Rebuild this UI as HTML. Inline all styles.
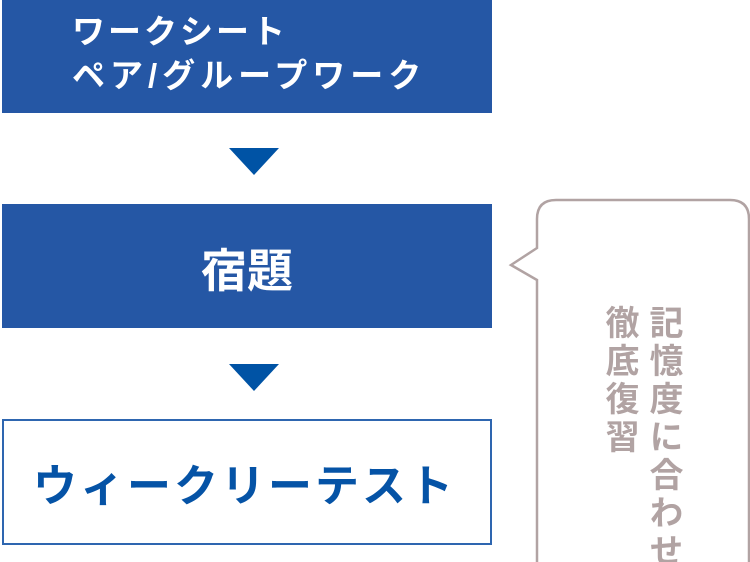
<!DOCTYPE html>
<html><head><meta charset="utf-8"><style>
html,body{margin:0;padding:0;background:#fff;width:750px;height:562px;overflow:hidden;position:relative;font-family:"Liberation Sans","Noto Sans CJK JP",sans-serif;font-weight:bold}
.b{position:absolute;left:2px;width:490px;background:#2557a5;color:#fff}
.t{position:absolute;white-space:nowrap}
</style></head><body>
<div class="b" style="top:0;height:113px"></div>
<div class="t" style="left:72px;top:10px;font-size:33px;letter-spacing:3px;color:#fff;line-height:44px">ワークシート<br><span style="letter-spacing:5px">ペア/グループワーク</span></div>
<svg style="position:absolute;left:0;top:0" width="750" height="562">
<polygon points="229,148 279,148 254,175" fill="#0053a5"/>
<polygon points="229,364 279,364 254,391" fill="#0053a5"/>
<rect x="3" y="420" width="488" height="124" fill="none" stroke="#2e66b0" stroke-width="2"/>
<path d="M556,200 H730 Q749,200 749,219 V562 M537,562 V280 L511,265 L537,248 V219 Q537,200 556,200" fill="none" stroke="#b1a3a3" stroke-width="2.5"/>
</svg>
<div class="b" style="top:204px;height:124px"></div>
<div class="t" style="left:0;width:494px;text-align:center;top:241px;font-size:46px;color:#fff;line-height:60px">宿題</div>
<div class="t" style="left:33px;top:459px;font-size:44px;letter-spacing:3px;color:#0553a6;line-height:56px">ウィークリーテスト</div>
<div class="t" style="left:642px;top:305px;writing-mode:vertical-rl;font-size:34px;letter-spacing:4px;color:#b1a3a3;line-height:42px">記憶度に合わせ</div>
<div class="t" style="left:598px;top:305px;writing-mode:vertical-rl;font-size:34px;letter-spacing:4px;color:#b1a3a3;line-height:42px">徹底復習</div>
</body></html>
